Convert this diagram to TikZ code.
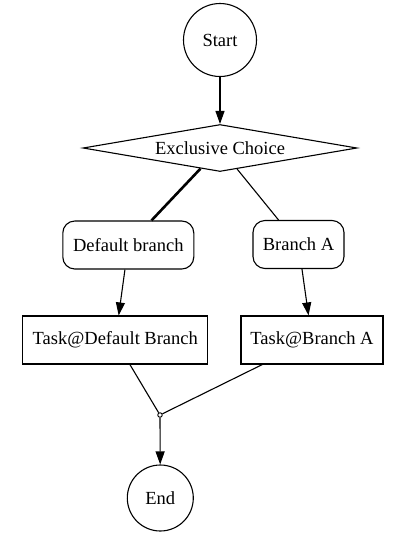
\documentclass[tikz,border=0pt]{standalone}
\usepackage{fontspec}
\setmainfont{Liberation Serif}
\usetikzlibrary{shapes.geometric,arrows.meta}
\begin{document}
\begin{tikzpicture}[x=1pt,y=1pt,
  every node/.style={font=\fontsize{18.5}{22}\selectfont, inner sep=0pt, line width=1.1pt},
  every path/.style={line width=1.1pt},
  circnode/.style={draw, circle},
  choice/.style={draw, diamond, minimum width=274pt, minimum height=47pt, aspect=5.8},
  branchbox/.style={draw, rectangle, rounded corners=12pt, minimum height=48pt},
  taskbox/.style={draw, rectangle, minimum height=48pt},
  joinpt/.style={draw, circle, fill=white, minimum size=4.5pt, line width=0.9pt},
  arr/.style={-{Triangle[length=13pt,width=9pt]}},
  thickedge/.style={line width=2.6pt}
]
\useasboundingbox (0,0) rectangle (403,-542);
\node[circnode, minimum size=73pt] (start) at (220,-40) {Start};
\node[choice] (xor) at (220,-148) {Exclusive Choice};
\node[branchbox, minimum width=131pt] (defb) at (128.3,-245) {Default branch};
\node[branchbox, minimum width=91pt] (ba) at (298.5,-244.5) {Branch A};
\node[taskbox, minimum width=185pt] (tdef) at (115.3,-340) {Task@Default Branch};
\node[taskbox, minimum width=142pt] (ta) at (312,-340) {Task@Branch A};
\node[joinpt] (join) at (160,-415) {};
\node[circnode, minimum size=66pt] (end) at (160.3,-498) {End};

\draw[arr] (start) -- (xor);
\draw[thickedge] (xor) -- (defb);
\draw (xor) -- (ba);
\draw[arr] (defb) -- (tdef);
\draw[arr] (ba) -- (ta);
\draw (tdef) -- (join);
\draw (ta) -- (join);
\draw[arr] (join) -- (end);
\end{tikzpicture}
\end{document}
